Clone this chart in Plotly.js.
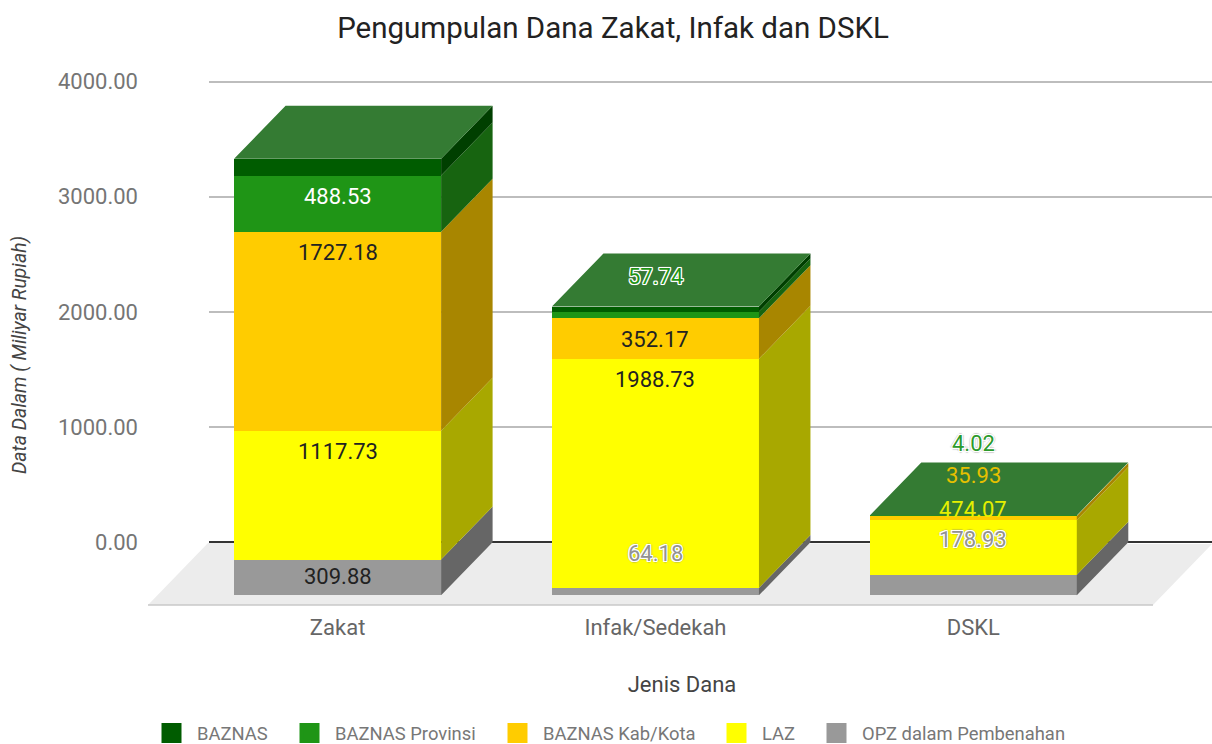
<!DOCTYPE html>
<html>
<head>
<meta charset="utf-8">
<script src="https://cdn.plot.ly/plotly-3.0.1.min.js"></script>
<style>html,body{margin:0;padding:0;background:#fff;overflow:hidden}</style>
</head>
<body>
<div id="chart" style="width:1212px;height:744px"></div>
<script>
// ---- data ----
var categories = ['Zakat', 'Infak/Sedekah', 'DSKL'];
var opz      = [309.88, 64.18, 178.93];
var laz      = [1117.73, 1988.73, 474.07];
var kabKota  = [1727.18, 352.17, 35.93];
var provinsi = [488.53, 57.74, 4.02];
var baznas   = [146, 44, 0];
var yTickValues = [0, 1000, 2000, 3000, 4000];
var yTickLabels = ['0.00', '1000.00', '2000.00', '3000.00', '4000.00'];

// ---- style ----
var W = 1212, H = 744;
var FONT = 'Roboto, sans-serif';
var pxPerUnit = 0.1152, pxPerCat = 317.85;
var zeroBack = 542.3, zeroFront = 595.3, cat0 = 337.6;
var domTop = 0, domBottom = 710;
var depthX = 51.5 / pxPerCat, depthY = (zeroFront - zeroBack) / pxPerUnit;
var barWidth = 207 / pxPerCat;

function yRange(zeroPx) {
  return [(zeroPx - domBottom) / pxPerUnit, (zeroPx - domTop) / pxPerUnit];
}
function xRange(l, r) { return [(l - cat0) / pxPerCat, (r - cat0) / pxPerCat]; }

var stack = [
  {name: 'OPZ dalam Pembenahan', vals: opz, color: '#999999', side: '#666666', legend: 'legend5', legendX: 811},
  {name: 'LAZ', vals: laz, color: '#ffff00', side: '#a8a800', legend: 'legend4', legendX: 711},
  {name: 'BAZNAS Kab/Kota', vals: kabKota, color: '#ffcc00', side: '#a88600', legend: 'legend3', legendX: 492},
  {name: 'BAZNAS Provinsi', vals: provinsi, color: '#1f9516', side: '#176410', legend: 'legend2', legendX: 284},
  {name: 'BAZNAS', vals: baznas, color: '#005c00', side: '#003f00', legend: 'legend', legendX: 146}
];
var X = categories.map(function (c, i) { return i; });

var traces = [];
// gives the back wall its subplot
traces.push({type: 'scatter', x: [null], y: [null], xaxis: 'x', yaxis: 'y', mode: 'markers', hoverinfo: 'skip', showlegend: false});
var cum = X.map(function () { return 0; });
var tops = [];
stack.forEach(function (s) {
  var sx = [], sy = [];
  var t = [];
  X.forEach(function (x, i) {
    var a = cum[i], b = cum[i] + s.vals[i];
    t.push(b);
    if (s.vals[i] > 0) {
      var r = x + barWidth / 2;
      sx.push(r, r + depthX, r + depthX, r, r, null);
      sy.push(a, a + depthY, b + depthY, b, a, null);
    }
    cum[i] = b;
  });
  tops.push(t);
  traces.push({type: 'scatter', x: sx, y: sy, xaxis: 'x2', yaxis: 'y2', mode: 'lines',
    fill: 'toself', fillcolor: s.side, line: {width: 0, color: s.side},
    hoverinfo: 'skip', showlegend: false});
  traces.push({type: 'bar', x: X, y: s.vals, xaxis: 'x2', yaxis: 'y2', width: barWidth, name: s.name,
    marker: {color: s.color, line: {width: 0}}, showlegend: false});
});
// top faces
var tx = [], ty = [];
X.forEach(function (x, i) {
  var l = x - barWidth / 2, r = x + barWidth / 2, b = cum[i];
  tx.push(l, r, r + depthX, l + depthX, l, null);
  ty.push(b, b, b + depthY, b + depthY, b, null);
});
traces.push({type: 'scatter', x: tx, y: ty, xaxis: 'x2', yaxis: 'y2', mode: 'lines', fill: 'toself',
  fillcolor: '#347b33', line: {width: 0, color: '#347b33'}, hoverinfo: 'skip', showlegend: false});
// legend entries
stack.forEach(function (s) {
  traces.push({type: 'scatter', x: [null], y: [null], xaxis: 'x2', yaxis: 'y2', mode: 'markers', name: s.name, legend: s.legend,
    marker: {symbol: 'square', size: 16, color: s.color, line: {width: 4, color: s.color}}, showlegend: true});
});

// ---- value labels ----
var halo = '1px 0 0 #fff,-1px 0 0 #fff,0 1px 0 #fff,0 -1px 0 #fff,1px 1px 0 #fff,-1px -1px 0 #fff,1px -1px 0 #fff,-1px 1px 0 #fff,' +
  '2px 0 1px rgba(120,120,120,.35),-2px 0 1px rgba(120,120,120,.35),0 2px 1px rgba(120,120,120,.35),0 -2px 1px rgba(120,120,120,.35)';
// [stack level, category, vertical offset, colour, halo]
var labelStyles = [
  [0, 0, -17, '#222222', false], [1, 0, -21, '#222222', false], [2, 0, -21, '#222222', false], [3, 0, -21, '#ffffff', false],
  [0, 1, 34, '#929292', true], [1, 1, -21, '#222222', false], [2, 1, -21, '#222222', false], [3, 1, 35, '#1f9516', true],
  [0, 2, 35, '#929292', true], [1, 2, 11, '#e6f000', false], [2, 2, 40, '#e6c000', false], [3, 2, 72, '#2b9a2b', true]
];
var annotations = labelStyles.map(function (l) {
  var f = {family: FONT, size: 22, color: l[3]};
  if (l[4]) f.shadow = halo;
  return {xref: 'x2', yref: 'y2', x: X[l[1]], y: tops[l[0]][l[1]], yshift: l[2], showarrow: false,
    text: stack[l[0]].vals[l[1]].toFixed(2), font: f, xanchor: 'center', yanchor: 'middle'};
});

var layout = {
  width: W, height: H, autosize: false,
  margin: {l: 0, r: 0, t: 0, b: 0, pad: 0, autoexpand: false},
  paper_bgcolor: '#ffffff', plot_bgcolor: 'rgba(0,0,0,0)',
  barmode: 'stack', hovermode: false,
  font: {family: FONT},
  title: {text: 'Pengumpulan Dana Zakat, Infak dan DSKL', x: 613 / W, xref: 'paper', xanchor: 'center',
    y: 1 - 28 / H, yref: 'paper', yanchor: 'middle', font: {family: FONT, size: 29.5, color: '#222222'}},
  // back wall: gridlines and value ticks
  xaxis: {domain: [209 / W, 1], range: [0, 1], anchor: 'y', visible: false, fixedrange: true},
  yaxis: {domain: [1 - domBottom / H, 1 - domTop / H], range: yRange(zeroBack), anchor: 'x', fixedrange: true,
    tickmode: 'array', tickvals: yTickValues, ticktext: yTickLabels, ticks: '', showline: false,
    ticklabelstandoff: 70, tickfont: {family: FONT, size: 22, color: '#757575'},
    showgrid: true, gridcolor: '#bdbdbd', gridwidth: 2,
    zeroline: true, zerolinecolor: '#333333', zerolinewidth: 2,
    title: {text: '<i>Data Dalam ( Miliyar Rupiah)</i>', standoff: 26, font: {family: FONT, size: 19.4, color: '#444444'}}},
  // front plane: bars
  xaxis2: {domain: [152 / W, 1], range: xRange(152, W), anchor: 'free', position: 1 - 612 / H, fixedrange: true,
    tickmode: 'array', tickvals: X, ticktext: categories, ticks: '', showline: false, showgrid: false, zeroline: false,
    tickfont: {family: FONT, size: 22, color: '#666666'},
    title: {text: 'Jenis Dana', standoff: 37, font: {family: FONT, size: 22, color: '#444444'}}},
  yaxis2: {domain: [1 - domBottom / H, 1 - domTop / H], range: yRange(zeroFront), anchor: 'x2', visible: false, fixedrange: true},
  shapes: [
    {type: 'path', xref: 'paper', yref: 'paper', layer: 'below', line: {width: 0}, fillcolor: '#ececec',
      path: 'M' + 208 / W + ',' + (1 - 543 / H) + 'L' + 1 + ',' + (1 - 544 / H) + 'L' + 1153 / W + ',' + (1 - 605 / H) + 'L' + 148 / W + ',' + (1 - 605 / H) + 'Z'},
    {type: 'line', xref: 'paper', yref: 'paper', layer: 'below', line: {width: 1.5, color: '#c8c8c8'},
      x0: 148 / W, x1: 1153 / W, y0: 1 - 605 / H, y1: 1 - 605 / H}
  ],
  annotations: annotations
};
stack.forEach(function (s) {
  layout[s.legend] = {orientation: 'h', x: s.legendX / W, xanchor: 'left', y: 1 - 733 / H, yanchor: 'middle',
    font: {family: FONT, size: 18.4, color: '#777777'}, itemsizing: 'trace', itemwidth: 41, bgcolor: 'rgba(0,0,0,0)',
    itemclick: false, itemdoubleclick: false};
});
Plotly.newPlot('chart', traces, layout, {displayModeBar: false, responsive: false});
</script>
</body>
</html>
